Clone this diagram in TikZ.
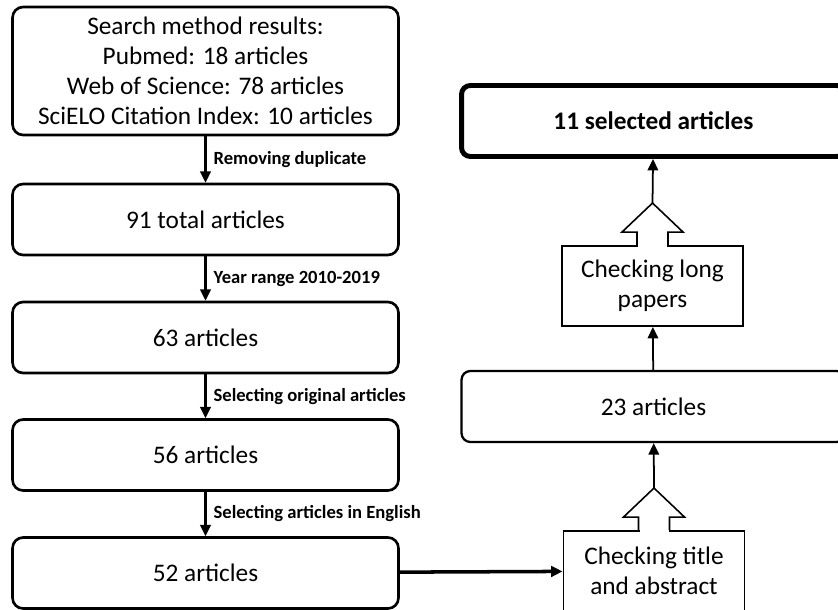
\documentclass[tikz,border=0pt]{standalone}
\usepackage{fontspec}
\setmainfont{Carlito}
\usetikzlibrary{arrows.meta, positioning, calc}

% open arrow head standing on top of a box
\newcommand{\arrowcap}[1]{%
  \fill[white] ($(#1.north)+(-14.5,1.5)$) rectangle ($(#1.north)+(14.5,-13)$);
  \draw[line width=0.9pt, line join=miter]
    ($(#1.north)+(-15.5,0)$) -- ++(0,-13) -- ++(-15,0)
    -- ($(#1.north)+(0,-42)$) -- ($(#1.north)+(30.5,-13)$)
    -- ++(-15,0) -- ($(#1.north)+(15.5,0)$);
  \coordinate (#1tip) at ($(#1.north)+(0,-42)$);
}

\begin{document}
\begin{tikzpicture}[x=0.02cm, y=-0.02cm,
  every node/.style={font=\fontsize{14.4}{17}\selectfont},
  stepbox/.style={draw, rounded corners=6pt, line width=1.5pt, align=center,
                  minimum width=7.72cm, minimum height=1.42cm, inner sep=0pt},
  widebox/.style={draw, rounded corners=5pt, align=center,
                  minimum width=7.68cm, minimum height=1.42cm, inner sep=0pt},
  checkbox/.style={draw, line width=1.1pt, align=center,
                   minimum width=3.62cm, minimum height=1.6cm, inner sep=0pt},
  steplabel/.style={font=\fontsize{10.6}{12}\selectfont\bfseries},
  flow/.style={-{Triangle[length=6.5pt, width=6pt]}, line width=1.4pt},
  upflow/.style={-{Triangle[length=6.5pt, width=6pt]}, line width=1pt}]
\useasboundingbox (0,0) rectangle (838,609);
\clip (0,0) rectangle (838,609);
\fill[white] (0,0) rectangle (838,609);

% Search results box
\node[stepbox, minimum height=2.56cm] (search) at (205.5,71) {
  Search method results:\\
  Pubmed: 18 articles\\
  Web of Science: 78 articles\\
  SciELO Citation Index: 10 articles
};
% Left column of steps
\node[stepbox] (total) at (205.5,219.5) {91 total articles};
\node[stepbox] (y63) at (205.5,337.5) {63 articles};
\node[stepbox] (y56) at (205.5,455) {56 articles};
\node[stepbox] (y52) at (205.5,573) {52 articles};

\draw[flow] (search) -- (total)
  node[midway, right=0.02cm, steplabel] {Removing duplicate};
\draw[flow] (total) -- (y63)
  node[midway, right=0.02cm, steplabel] {Year range 2010-2019};
\draw[flow] (y63) -- (y56)
  node[midway, right=0.02cm, steplabel] {Selecting original articles};
\draw[flow] (y56) -- (y52)
  node[midway, right=0.02cm, steplabel] {Selecting articles in English};

% Right column
\node[checkbox] (titleab) at (654,571) {Checking title\\and abstract};
\node[widebox, line width=1.3pt] (art23) at (653.5,406.5) {23 articles};
\node[checkbox] (longpap) at (652.5,286) {Checking long\\papers};
\node[widebox, line width=2.8pt] (final) at (653.5,121) {\textbf{11 selected articles}};

\arrowcap{titleab}
\arrowcap{longpap}

\draw[flow, line width=2pt] (y52) -- (titleab);
\draw[upflow] (titleabtip) -- (art23);
\draw[upflow] (art23) -- (longpap);
\draw[upflow] (longpaptip) -- (final);
\end{tikzpicture}
\end{document}
